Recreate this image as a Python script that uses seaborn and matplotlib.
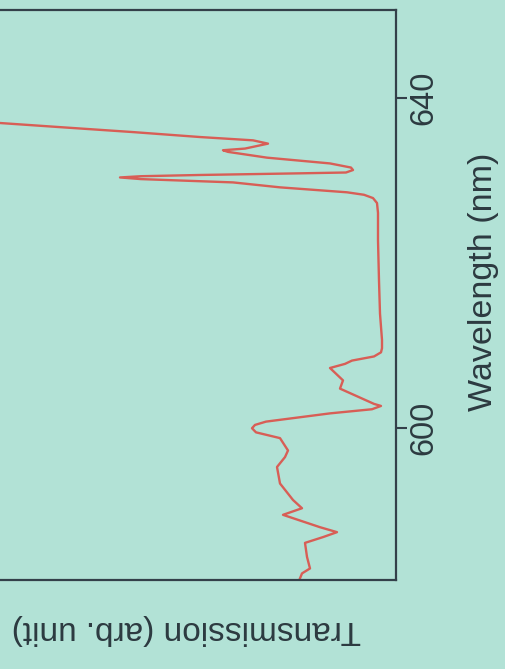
import numpy as np
import pandas as pd
import matplotlib
matplotlib.use("Agg")
import matplotlib.pyplot as plt
import seaborn as sns

wavelength = [581.2, 582.4, 583.0, 584.4, 586.1, 586.8, 587.4, 588.0, 589.5, 590.3,
              591.3, 593.3, 595.3, 596.5, 597.3, 598.8, 599.5, 600.0, 600.4, 600.8,
              601.8, 602.3, 602.7, 602.95, 604.8, 605.8, 607.3, 607.8, 608.2, 608.7,
              609.2, 609.7, 610.7, 613.9, 617.9, 622.8, 626.1, 627.3, 627.9, 628.3,
              628.6, 629.2, 629.8, 630.2, 630.4, 630.55, 630.7, 630.9, 631.0, 631.3,
              631.6, 632.1, 632.8, 633.5, 633.7, 633.9, 634.5, 634.9, 635.3, 635.9,
              636.5, 637.0, 637.7, 638.3]
transmission = [0.98, 0.94, 0.86, 0.89, 0.91, 0.73, 0.59, 0.76, 1.13, 0.94,
                1.03, 1.16, 1.19, 1.11, 1.08, 1.16, 1.40, 1.44, 1.41, 1.30,
                0.66, 0.24, 0.15, 0.22, 0.56, 0.53, 0.66, 0.51, 0.44, 0.22,
                0.15, 0.14, 0.14, 0.16, 0.17, 0.18, 0.18, 0.19, 0.23, 0.32,
                0.49, 1.16, 1.63, 2.55, 2.76, 2.55, 1.96, 0.96, 0.50, 0.43,
                0.45, 0.66, 1.29, 1.68, 1.73, 1.51, 1.28, 1.43, 1.96, 2.63,
                3.36, 3.96, 5.00, 5.96]
wl_ticks = [600, 640]
wl_tick_labels = ["600", "640"]

df = pd.DataFrame({"wavelength": wavelength, "transmission": transmission})

sns.set_theme(style="white")
plt.rcParams["font.family"] = ["Liberation Sans", "DejaVu Sans"]

bg = "#b2e2d6"
ink = "#2c3a40"
spine_c = "#33404a"
line_c = "#d85e56"

W, H = 506, 669
fig = plt.figure(figsize=(W / 100, H / 100), dpi=100, facecolor=bg)
ax = fig.add_axes([-104 / W, (H - 580) / H, 500 / W, 570 / H])
ax.set_facecolor(bg)

sns.lineplot(data=df, x="transmission", y="wavelength", sort=False,
             estimator=None, orient="y", color=line_c, lw=1.7, ax=ax)
ax.lines[0].set_solid_joinstyle("round")

ax.set_xlim(5, 0)
ax.set_ylim(581.6, 650.7)

for s in ["top", "bottom", "right"]:
    ax.spines[s].set_color(spine_c)
    ax.spines[s].set_linewidth(1.6)
ax.spines["left"].set_visible(False)

ax.set_xticks([])
ax.set_yticks(wl_ticks)
ax.set_yticklabels(wl_tick_labels)
ax.yaxis.tick_right()
ax.tick_params(axis="y", which="both", left=False, right=True, labelleft=False,
               labelright=True, direction="out", length=8, width=1.5,
               color=spine_c, pad=1, labelsize=23.5, labelcolor=ink,
               labelrotation=90)
for t in ax.get_yticklabels():
    t.set_va("center")

ax.yaxis.set_label_position("right")
ax.set_ylabel("Wavelength (nm)", fontsize=24.5, color=ink)
ax.yaxis.label.set_rotation(90)
ax.yaxis.label.set_ha("center")
ax.yaxis.label.set_va("center")
ax.yaxis.set_label_coords((484 + 104) / 500, (580 - 282) / 570)

ax.set_xlabel("Transmission (arb. unit)", fontsize=24, color=ink)
ax.xaxis.label.set_rotation(180)
ax.xaxis.label.set_ha("center")
ax.xaxis.label.set_va("center")
ax.xaxis.set_label_coords((186 + 104) / 500, (580 - 630) / 570)

fig.savefig("out.png", dpi=100, facecolor=bg)
